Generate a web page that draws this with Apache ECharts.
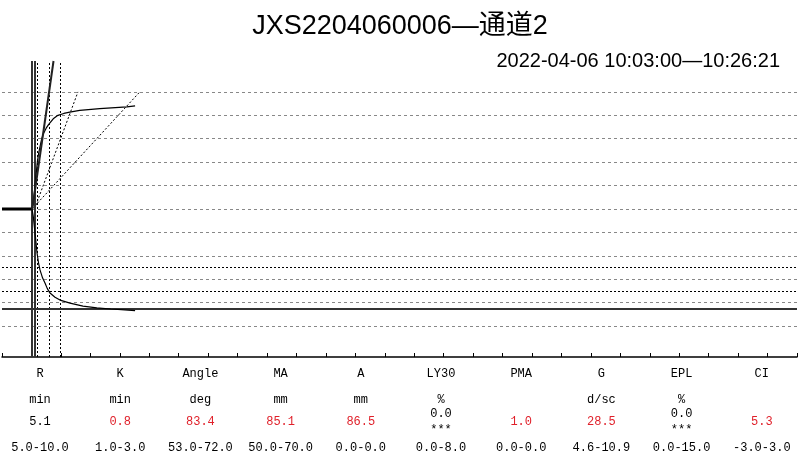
<!DOCTYPE html>
<html>
<head>
<meta charset="utf-8">
<script src="https://cdn.jsdelivr.net/npm/echarts@6/dist/echarts.min.js"></script>
<style>html,body{margin:0;padding:0;background:#fff}#c{width:800px;height:460px}</style>
</head>
<body>
<div id="c"></div>
<script>
// ---- data (time in minutes, amplitude in mm) ----
const titleText = 'JXS2204060006—通道2';
const subtitleText = '2022-04-06 10:03:00—10:26:21';
const baselineTrace = [[0, 0], [5.0, 0]];
const upperCurve = [[5.1,0],[5.3,3],[5.5,7],[5.6,10],[5.8,15],[6.0,20],[6.2,23.5],[6.45,26.5],[6.75,30],[7.0,32],[7.5,34.5],[7.9,36],[8.7,38.5],[9.5,40],[10.5,40.8],[11.5,41.4],[13.2,42.1],[16.6,42.9],[21.2,43.6],[22.6,44]];
const lowerCurve = [[5.1,0],[5.3,-3],[5.6,-10],[5.95,-18.8],[6.2,-23],[6.45,-26],[6.9,-29.5],[7.3,-31.6],[7.7,-34],[8.15,-35.9],[9.0,-37.7],[9.85,-38.9],[11.55,-40.2],[13.75,-41.5],[16.1,-42.2],[18.5,-42.7],[22.6,-43.4]];
const angleLine = [[5.15, 0], [8.75, 63.2]];
const diagA = [[5.52, 0], [12.9, 50]];
const diagB = [[5.1, 0], [23.4, 50]];
const gridLevels = [-50,-40,-30,-20,-10,0,10,20,30,40,50];
const normalLevels = [-25, -35];
const maLevel = -42.55;
const thickTimes = [5.05, 5.55];
const dottedTimes = [6.0, 8.0, 9.9];

const paramNames = ['R','K','Angle','MA','A','LY30','PMA','G','EPL','CI'];
const paramUnits = ['min','min','deg','mm','mm','%','','d/sc','%',''];
const paramValues = ['5.1','0.8','83.4','85.1','86.5','0.0','1.0','28.5','0.0','5.3'];
const paramAbnormal = [false,true,true,true,true,false,true,true,false,true];
const paramStars = ['','','','','','***','','','***',''];
const paramRanges = ['5.0-10.0','1.0-3.0','53.0-72.0','50.0-70.0','0.0-0.0','0.0-8.0','0.0-0.0','4.6-10.9','0.0-15.0','-3.0-3.0'];

// ---- chart ----
const chart = echarts.init(document.getElementById('c'), null, {renderer: 'canvas'});
const mono = "12px 'Liberation Mono', 'DejaVu Sans Mono', monospace";
const red = '#e0202a';

function txt(text, x, y, font, fill, align) {
  return {type: 'text', x: x, y: y, silent: true,
    style: {text: text, font: font, fill: fill || '#000',
      align: align || 'center', verticalAlign: 'middle',
      textAlign: align || 'center', textVerticalAlign: 'middle'}};
}

const graphics = [];
graphics.push(txt(titleText, 400, 27, "27px 'Liberation Sans', 'Noto Sans CJK SC', sans-serif", '#000'));
graphics.push(txt(subtitleText, 780, 61, "20px 'Liberation Sans', 'Noto Sans CJK SC', sans-serif", '#000', 'right'));
paramNames.forEach(function (n, i) {
  const cx = 40 + 80.2 * i;
  graphics.push(txt(n, cx, 374, mono));
  if (paramUnits[i]) graphics.push(txt(paramUnits[i], cx, 400, mono));
  if (paramStars[i]) {
    graphics.push(txt(paramValues[i], cx, 414, mono, paramAbnormal[i] ? red : '#000'));
    graphics.push(txt(paramStars[i], cx, 430, mono));
  } else {
    graphics.push(txt(paramValues[i], cx, 422, mono, paramAbnormal[i] ? red : '#000'));
  }
  graphics.push(txt(paramRanges[i], cx, 448, mono));
});

const markLineBase = {silent: true, symbol: 'none', label: {show: false}, emphasis: {disabled: true}, animation: false};

const option = {
  animation: false,
  backgroundColor: '#fff',
  grid: {left: 2, right: 3, top: 61, bottom: 103},
  xAxis: {type: 'value', min: 0, max: 135, interval: 5,
    axisLine: {show: true, onZero: false, lineStyle: {color: '#000', width: 1.5}},
    axisTick: {show: true, inside: true, length: 4, lineStyle: {color: '#000', width: 1}},
    axisLabel: {show: false}, splitLine: {show: false}},
  yAxis: {type: 'value', min: -63.2, max: 63.2,
    axisLine: {show: false, onZero: false}, axisTick: {show: false}, axisLabel: {show: false}, splitLine: {show: false}},
  graphic: graphics,
  series: [
    {type: 'line', data: [], z: 1,
      markLine: Object.assign({}, markLineBase, {
        lineStyle: {color: '#888', width: 1, type: [3, 3]},
        data: gridLevels.map(function (v) { return {yAxis: v}; })})},
    {type: 'line', data: [], z: 2,
      markLine: Object.assign({}, markLineBase, {
        lineStyle: {color: '#000', width: 1, type: [2, 2]},
        data: normalLevels.map(function (v) { return {yAxis: v}; })
          .concat(dottedTimes.map(function (v) { return {xAxis: v}; }))})},
    {type: 'line', data: [], z: 3,
      markLine: Object.assign({}, markLineBase, {
        lineStyle: {color: '#333', width: 2, type: 'solid'},
        data: [{yAxis: maLevel}].concat(thickTimes.map(function (v) { return {xAxis: v}; }))})},
    {type: 'line', data: diagA, showSymbol: false, z: 4, lineStyle: {color: '#000', width: 1, type: [2, 2]}},
    {type: 'line', data: diagB, showSymbol: false, z: 4, lineStyle: {color: '#000', width: 1, type: [2, 2]}},
    {type: 'line', data: baselineTrace, showSymbol: false, z: 5, lineStyle: {color: '#000', width: 3}},
    {type: 'line', data: upperCurve, showSymbol: false, z: 5, lineStyle: {color: '#000', width: 1.2}},
    {type: 'line', data: lowerCurve, showSymbol: false, z: 5, lineStyle: {color: '#000', width: 1.2}},
    {type: 'line', data: angleLine, showSymbol: false, z: 6, lineStyle: {color: '#222', width: 2}}
  ]
};
chart.setOption(option);
</script>
</body>
</html>
